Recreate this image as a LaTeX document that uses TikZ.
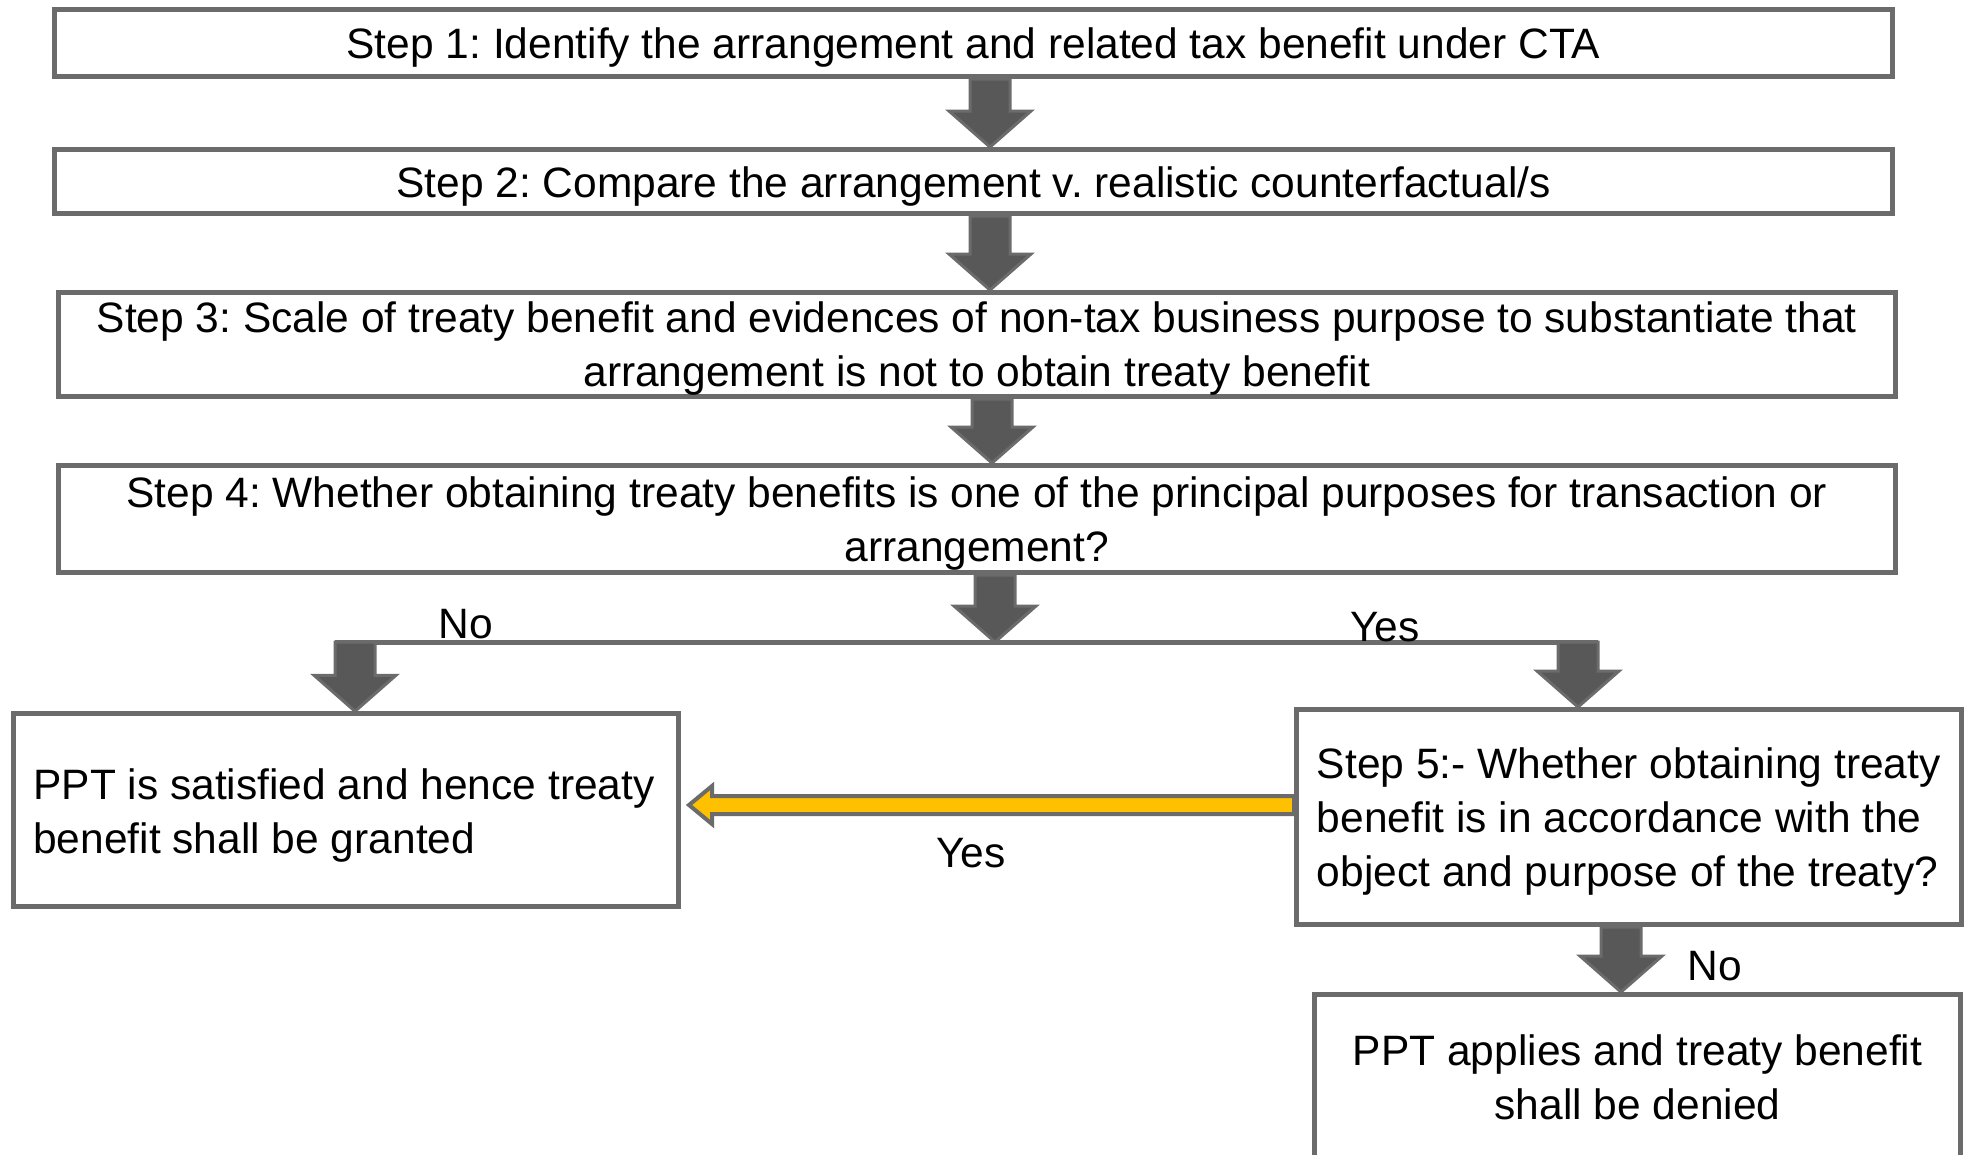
\documentclass[tikz,border=0pt]{standalone}
\usepackage{fontspec}
\setmainfont{Liberation Sans}
\usetikzlibrary{calc}
\frenchspacing

\definecolor{edgegray}{HTML}{6B6B6B}
\definecolor{arrowfill}{HTML}{585858}
\definecolor{gold}{HTML}{FFC000}

\tikzset{
  txt/.style={font=\fontsize{42.5}{54}\selectfont, inner sep=0pt, align=center},
  lefttxt/.style={txt, align=left},
  box/.style={draw=edgegray, line width=5pt, rectangle, inner sep=0pt},
  lbl/.style={txt},
  connector/.style={draw=edgegray, line width=5pt},
  blockarrow/.style={fill=arrowfill, draw=edgegray, line width=3pt, line join=miter},
  goldarrow/.style={fill=gold, draw=edgegray, line width=4pt, line join=miter},
}

% Block arrow pointing down: #1 = x position, #2 = start point, #3 = tip point
\newcommand\blockdown[3]{%
  \filldraw[blockarrow] let \p1=(#2), \p2=(#3) in
    (#1pt-20pt,\y1) -- (#1pt+20pt,\y1) -- (#1pt+20pt,\y2+36pt)
    -- (#1pt+41pt,\y2+36pt) -- (#1pt,\y2) -- (#1pt-41pt,\y2+36pt)
    -- (#1pt-20pt,\y2+36pt) -- cycle;
}

\begin{document}
\begin{tikzpicture}[x=1pt,y=-1pt]
\clip (0,0) rectangle (1969,1154);

% process steps
\node[box, minimum width=1838pt, minimum height=67pt] (s1) at (973.5,43) {};
\node[box, minimum width=1838pt, minimum height=64pt] (s2) at (973.5,181.5) {};
\node[box, minimum width=1836.5pt, minimum height=104pt] (s3) at (976.75,344.5) {};
\node[box, minimum width=1836.5pt, minimum height=107pt] (s4) at (976.75,519) {};

% outcomes
\node[box, minimum width=665pt, minimum height=192.5pt] (sat) at (346,810) {};
\node[box, minimum width=664.5pt, minimum height=215pt] (s5) at (1628.75,817) {};
\node[box, minimum width=646pt, minimum height=163pt] (deny) at (1637.5,1076) {};

% box texts
\node[txt] (t1) at ($(s1)+(0,5)$)
  {Step 1: Identify the arrangement and related tax benefit under CTA};
\node[txt] (t2) at ($(s2)+(0,5)$)
  {Step 2: Compare the arrangement v. realistic counterfactual/s};
\node[txt] (t3) at ($(s3)+(0,4)$)
  {Step 3: Scale of treaty benefit and evidences of non-tax business purpose to substantiate that\\arrangement is not to obtain treaty benefit};
\node[txt] (t4) at ($(s4)+(0,5)$)
  {Step 4: Whether obtaining treaty benefits is one of the principal purposes for transaction or\\arrangement?};
\node[lefttxt] (tsat) at ($(sat)+(-2,5)$)
  {PPT is satisfied and hence treaty\\benefit shall be granted};
\node[lefttxt] (t5) at ($(s5)+(0,4)$)
  {Step 5:- Whether obtaining treaty\\benefit is in accordance with the\\object and purpose of the treaty?};
\node[txt] (tdeny) at ($(deny)+(0,1)$)
  {PPT applies and treaty benefit\\shall be denied};

% branch points on the split line
\coordinate (split) at (995,642);
\coordinate (nobr) at (355,642);
\coordinate (yesbr) at (1578,642);

\draw[connector] ($(nobr)+(-20,0)$) -- ($(yesbr)+(20,0)$);

% down arrows
\blockdown{990}{s1.south}{s2.north}
\blockdown{990}{s2.south}{s3.north}
\blockdown{992}{s3.south}{s4.north}
\blockdown{995}{s4.south}{split}
\blockdown{355}{nobr}{sat.north}
\blockdown{1578}{yesbr}{s5.north}
\blockdown{1621}{s5.south}{deny.north}

% Step 5 "Yes" back to the granted outcome
\filldraw[goldarrow] let \p1=(s5.west), \p2=(sat.east) in
  (\x1,\y1+21pt) -- (\x2+31pt,\y1+21pt) -- (\x2+31pt,\y1+31pt)
  -- (\x2+8pt,\y1+12pt) -- (\x2+31pt,\y1-7pt) -- (\x2+31pt,\y1+3pt)
  -- (\x1,\y1+3pt) -- cycle;

% branch labels
\node[lbl] (lno1) at (466,624) {No};
\node[lbl] (lyes1) at (1385,627) {Yes};
\node[lbl] (lyes2) at (971,853) {Yes};
\node[lbl] (lno2) at (1715,966) {No};
\end{tikzpicture}
\end{document}
